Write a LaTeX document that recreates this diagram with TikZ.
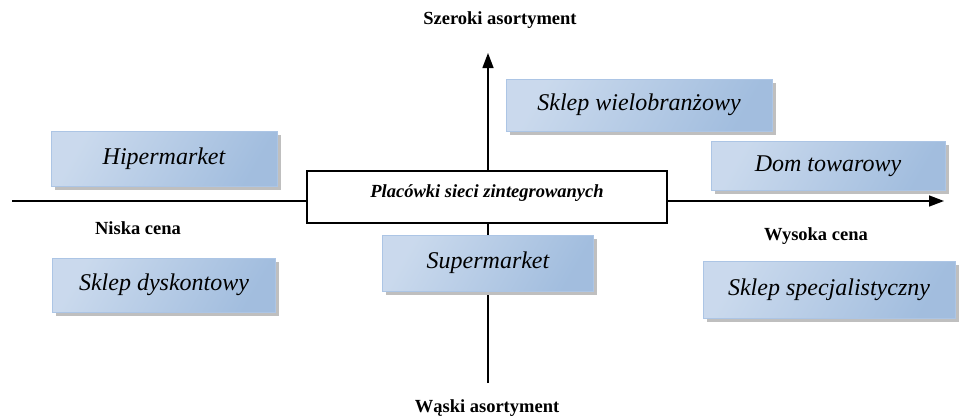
\documentclass[tikz,border=0pt]{standalone}
\usepackage{fontspec}
\setmainfont{Liberation Serif}
\usetikzlibrary{arrows.meta, shadows}
\definecolor{BoxDark}{RGB}{150,181,218}
\definecolor{BoxLight}{RGB}{230,237,247}
\definecolor{BoxEdge}{RGB}{172,197,229}
\tikzset{
    shop/.style={draw=BoxEdge, line width=0.8pt, inner sep=0pt,
        left color=BoxLight!65!BoxDark, middle color=BoxLight, right color=BoxDark!85!BoxLight,
        shading angle=60,
        general shadow={fill=gray!50, shadow xshift=3.5pt, shadow yshift=-3.5pt},
        font=\fontsize{24}{28}\selectfont\itshape},
    axislabel/.style={font=\fontsize{18.5}{22}\selectfont\bfseries},
    axis/.style={line width=1.4pt, -{Triangle[length=15pt,width=11pt]}}
}

\begin{document}
\begin{tikzpicture}[x=1pt,y=-1pt]
    \useasboundingbox (0,0) rectangle (959,418);
    %\draw[help lines] (0,0) grid[step=50] (959,418);
    \coordinate (west) at (12,201);
    \coordinate (east) at (944,201);
    \coordinate (south) at (488,383);
    \coordinate (north) at (488,53);
    \draw[axis] (west) -- (east);
    \draw[axis] (south) -- (north);

    \node[draw, line width=1.2pt, fill=white, minimum width=360pt, minimum height=52pt,
        font=\fontsize{18.5}{22}\selectfont\bfseries\itshape] (plac) at (487,197) {};
    \node[font=\fontsize{18.5}{22}\selectfont\bfseries\itshape] (plactxt) at (487,193) {Placówki sieci zintegrowanych};

    \node[shop, minimum width=226pt, minimum height=55pt] (hiper) at (164,159) {Hipermarket};
    \node[shop, minimum width=223pt, minimum height=54pt] (dysk) at (164,285) {Sklep dyskontowy};
    \node[shop, minimum width=266pt, minimum height=52pt] (wielo) at (639,105) {Sklep wielobranżowy};
    \node[shop, minimum width=234pt, minimum height=49pt] (dom) at (828,166) {Dom towarowy};
    \node[shop, minimum width=211pt, minimum height=56pt] (super) at (488,263) {Supermarket};
    \node[shop, minimum width=252pt, minimum height=57pt] (spec) at (829,290) {Sklep specjalistyczny};

    \node[axislabel] (szer) at (500,20) {Szeroki asortyment};
    \node[axislabel] (wask) at (487,408) {Wąski asortyment};
    \node[axislabel] (nisk) at (138,228) {Niska cena};
    \node[axislabel] (wys) at (816,236) {Wysoka cena};
\end{tikzpicture}
\end{document}
